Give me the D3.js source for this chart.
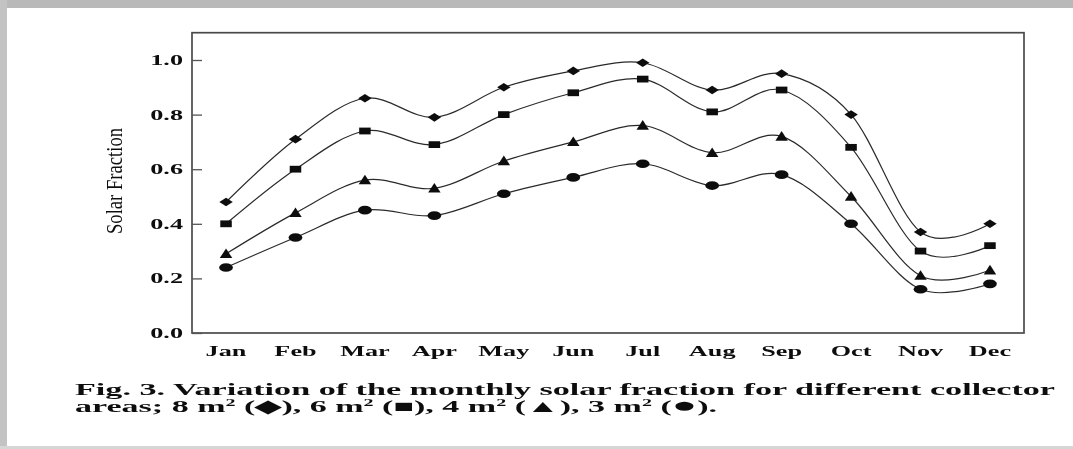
<!DOCTYPE html>
<html>
<head>
<meta charset="utf-8">
<script src="https://cdn.jsdelivr.net/npm/d3@7/dist/d3.min.js"></script>
<style>
  html, body { margin: 0; padding: 0; background: #fff; }
  svg { display: block; }
  text { font-family: "Liberation Serif", "Times New Roman", serif; fill: #111; }
</style>
</head>
<body>
<svg id="chart" width="1073" height="449"></svg>
<script>
// Monthly solar fraction for four collector areas
const months = ["Jan", "Feb", "Mar", "Apr", "May", "Jun", "Jul", "Aug", "Sep", "Oct", "Nov", "Dec"];
const area8 = [0.48, 0.71, 0.86, 0.79, 0.90, 0.96, 0.99, 0.89, 0.95, 0.80, 0.37, 0.40];
const area6 = [0.40, 0.60, 0.74, 0.69, 0.80, 0.88, 0.93, 0.81, 0.89, 0.68, 0.30, 0.32];
const area4 = [0.29, 0.44, 0.56, 0.53, 0.63, 0.70, 0.76, 0.66, 0.72, 0.50, 0.21, 0.23];
const area3 = [0.24, 0.35, 0.45, 0.43, 0.51, 0.57, 0.62, 0.54, 0.58, 0.40, 0.16, 0.18];
const yTicks = [0.0, 0.2, 0.4, 0.6, 0.8, 1.0];

const svg = d3.select("#chart");

// slight softening of the printed figure
svg.append("defs").append("filter").attr("id", "soft")
  .append("feGaussianBlur").attr("stdDeviation", 0.45);

// page frame
svg.append("rect").attr("x", 0).attr("y", 0).attr("width", 1073).attr("height", 8).attr("fill", "#b9b9b9");
svg.append("rect").attr("x", 0).attr("y", 0).attr("width", 7).attr("height", 449).attr("fill", "#c3c3c3");
svg.append("rect").attr("x", 0).attr("y", 446).attr("width", 1073).attr("height", 3).attr("fill", "#d6d6d6");

const root = svg.append("g").attr("filter", "url(#soft)");

const plot = { left: 192, right: 1024, top: 32.7, bottom: 333 };

const x = d3.scalePoint().domain(months).range([plot.left, plot.right]).padding(0.49);
const y = d3.scaleLinear().domain([0, 1.1]).range([plot.bottom, plot.top]);

// horizontal stretch applied to glyphs and markers
const SX = 1.75;

// custom marker shapes
const diamond = { draw(ctx, s) { const w = 4.2 * s, h = 4.3 * s;
  ctx.moveTo(0, -h); ctx.lineTo(w, 0); ctx.lineTo(0, h); ctx.lineTo(-w, 0); ctx.closePath(); } };
const square = { draw(ctx, s) { const w = 3.6 * s, h = 3.4 * s;
  ctx.moveTo(-w, -h); ctx.lineTo(w, -h); ctx.lineTo(w, h); ctx.lineTo(-w, h); ctx.closePath(); } };
const triangle = { draw(ctx, s) { const w = 3.9 * s;
  ctx.moveTo(0, -5.4 * s); ctx.lineTo(w, 4.2 * s); ctx.lineTo(-w, 4.2 * s); ctx.closePath(); } };
const circle = { draw(ctx, s) { const r = 4.3 * s;
  ctx.moveTo(r, 0); ctx.arc(0, 0, r, 0, 2 * Math.PI); } };

const series = [
  { values: area8, shape: diamond },
  { values: area6, shape: square },
  { values: area4, shape: triangle },
  { values: area3, shape: circle }
];

// plot box
root.append("rect")
  .attr("x", plot.left).attr("y", plot.top)
  .attr("width", plot.right - plot.left).attr("height", plot.bottom - plot.top)
  .attr("fill", "none").attr("stroke", "#4a4a4a").attr("stroke-width", 1.7);

// y axis: inward ticks on the left side
const yAxis = d3.axisRight(y).tickValues(yTicks).tickSize(10).tickFormat("");
const ya = root.append("g").attr("transform", `translate(${plot.left},0)`).call(yAxis);
ya.select(".domain").remove();
ya.selectAll(".tick line").attr("stroke", "#555").attr("stroke-width", 1.3);

root.append("g").selectAll("text").data(yTicks).join("text")
  .attr("transform", d => `translate(${plot.left - 9},${y(d) + 5}) scale(${SX},1)`)
  .attr("text-anchor", "end")
  .attr("font-size", 15)
  .attr("font-weight", "bold")
  .attr("fill", "#222")
  .text(d => d.toFixed(1));

// x labels
root.append("g").selectAll("text").data(months).join("text")
  .attr("transform", d => `translate(${x(d)},${plot.bottom + 23}) scale(${SX},1)`)
  .attr("text-anchor", "middle")
  .attr("font-size", 15)
  .attr("font-weight", "bold")
  .attr("fill", "#222")
  .text(d => d);

// y axis title
root.append("text")
  .attr("transform", `translate(122,181) scale(1.5,1) rotate(-90)`)
  .attr("text-anchor", "middle")
  .attr("font-size", 15)
  .attr("fill", "#222")
  .attr("textLength", 106)
  .attr("lengthAdjust", "spacingAndGlyphs")
  .text("Solar Fraction");

// curves
const line = d3.line()
  .x((d, i) => x(months[i]))
  .y(d => y(d))
  .curve(d3.curveCardinal.tension(0));

const g = root.append("g");
series.forEach(s => {
  g.append("path")
    .datum(s.values)
    .attr("d", line)
    .attr("fill", "none")
    .attr("stroke", "#2a2a2a")
    .attr("stroke-width", 1.2);
  g.append("g").selectAll("path").data(s.values).join("path")
    .attr("transform", (d, i) => `translate(${x(months[i])},${y(d)}) scale(1.6,1)`)
    .attr("d", d3.symbol().type(s.shape).size(1))
    .attr("fill", "#111");
});

// caption
const cap = root.append("g").attr("fill", "#111");
cap.append("text")
  .attr("x", 75).attr("y", 395)
  .attr("font-size", 17)
  .attr("font-weight", 600)
  .attr("textLength", 980)
  .attr("lengthAdjust", "spacingAndGlyphs")
  .text("Fig. 3. Variation of the monthly solar fraction for different collector");

const l2 = cap.append("text")
  .attr("x", 75).attr("y", 412)
  .attr("font-size", 17)
  .attr("font-weight", 600)
  .attr("textLength", 642)
  .attr("lengthAdjust", "spacingAndGlyphs");
// [text, kind, dy]: kind 1 = superscript, kind 2 = enlarged symbol
const parts = [
  ["areas; 8 m", 0, 0], ["2", 1, -6], [" (\u25C6), 6 m", 0, 6], ["2", 1, -6],
  [" (\u25A0), 4 m", 0, 6], ["2", 1, -6], [" (\u25B2), 3 m", 0, 6], ["2", 1, -6],
  [" (", 0, 6], ["\u25CF", 2, 0], [").", 0, 0]
];
parts.forEach(([t, kind, dy]) => {
  const ts = l2.append("tspan").text(t);
  if (kind === 1) ts.attr("font-size", 10);
  if (kind === 2) ts.attr("font-size", 21);
  if (dy) ts.attr("dy", dy);
});
</script>
</body>
</html>
